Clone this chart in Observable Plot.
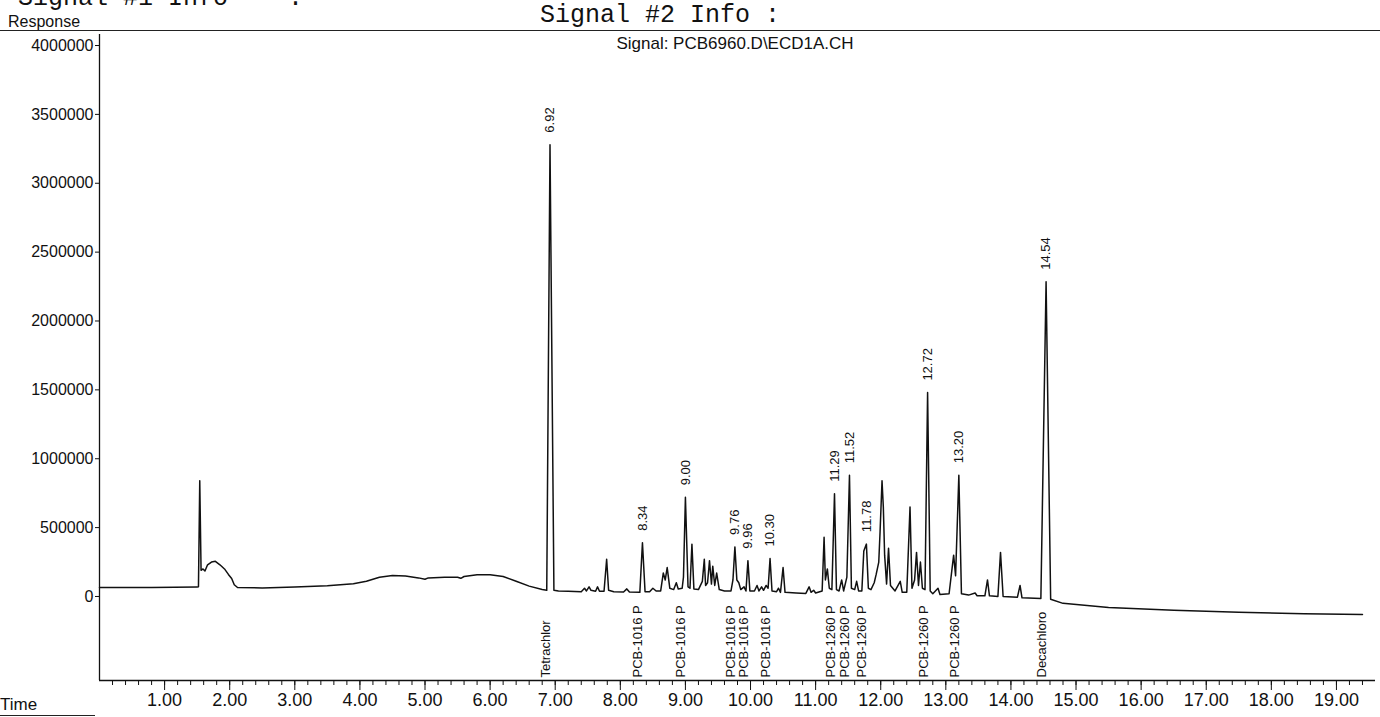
<!DOCTYPE html>
<html><head><meta charset="utf-8">
<script src="https://cdn.jsdelivr.net/npm/d3@7"></script>
<script src="https://cdn.jsdelivr.net/npm/@observablehq/plot@0.6"></script>
<style>
body{margin:0;background:#fff;font-family:"Liberation Sans",Arial,sans-serif;color:#111;}
#wrap{position:relative;width:1380px;height:717px;overflow:hidden;background:#fff;}
#chart{position:absolute;left:0;top:0;}
.mono{position:absolute;font-family:"Liberation Mono","Courier New",monospace;font-size:25px;line-height:1;white-space:pre;color:#111;}
.sans{position:absolute;font-family:"Liberation Sans",Arial,sans-serif;line-height:1;white-space:pre;color:#111;}
</style></head>
<body><div id="wrap">
<div id="chart"></div>
<div class="mono" style="left:18px;top:-14px">Signal #1 Info    :</div>
<div class="mono" style="left:540px;top:3px">Signal #2 Info :</div>
<div style="position:absolute;left:0;top:30px;width:1380px;border-top:1.5px solid #222"></div>
<div class="sans" style="left:8px;top:14px;font-size:16px">Response</div>
<div class="sans" style="left:535px;top:35px;width:400px;text-align:center;font-size:17px">Signal: PCB6960.D\ECD1A.CH</div>
<div class="sans" style="left:0;top:696px;width:95px;font-size:17px;padding-bottom:2px;border-bottom:1.5px solid #222">Time</div>
</div>
<script>
// ---- axis definitions ----
const timeDomain = [0, 19.6];
const responseDomain = [-610000, 4080000];
const responseTicks = [0, 500000, 1000000, 1500000, 2000000, 2500000, 3000000, 3500000, 4000000];
const timeTicks = [1, 2, 3, 4, 5, 6, 7, 8, 9, 10, 11, 12, 13, 14, 15, 16, 17, 18, 19];
const minorTicks = d3.range(0.2, 19.6, 0.2);

// ---- chromatogram trace (retention time, response) ----
const traceTime = [
  0.00, 0.80, 1.50, 1.52, 1.54, 1.56, 1.59, 1.62, 1.66, 1.72, 1.78, 1.85, 1.92, 1.98, 2.03, 2.07, 2.12,
  2.50, 3.00, 3.50, 3.90, 4.10, 4.30, 4.50, 4.70, 4.90, 5.00, 5.05, 5.30, 5.50, 5.55, 5.60, 5.80, 6.00,
  6.20, 6.40, 6.60, 6.80, 6.87, 6.92, 6.98, 7.05, 7.20, 7.40, 7.45, 7.48, 7.52, 7.55, 7.62, 7.65, 7.68,
  7.75, 7.79, 7.82, 7.90, 8.05, 8.10, 8.14, 8.30, 8.34, 8.38, 8.45, 8.50, 8.55, 8.62, 8.66, 8.69, 8.72,
  8.76, 8.82, 8.86, 8.89, 8.95, 8.97, 9.00, 9.04, 9.07, 9.10, 9.13, 9.20, 9.26, 9.29, 9.31, 9.34, 9.37,
  9.40, 9.42, 9.45, 9.48, 9.52, 9.60, 9.70, 9.73, 9.76, 9.79, 9.82, 9.85, 9.90, 9.93, 9.96, 9.99, 10.06,
  10.10, 10.13, 10.17, 10.20, 10.24, 10.27, 10.30, 10.33, 10.40, 10.43, 10.46, 10.50, 10.53, 10.70, 10.85,
  10.90, 10.93, 10.97, 11.00, 11.10, 11.13, 11.15, 11.18, 11.21, 11.25, 11.29, 11.32, 11.36, 11.40, 11.43,
  11.48, 11.52, 11.55, 11.60, 11.63, 11.66, 11.71, 11.74, 11.78, 11.81, 11.85, 11.90, 11.93, 11.97, 11.99,
  12.02, 12.04, 12.06, 12.09, 12.12, 12.15, 12.22, 12.30, 12.33, 12.40, 12.45, 12.48, 12.52, 12.55, 12.58,
  12.61, 12.64, 12.68, 12.72, 12.76, 12.80, 12.88, 12.91, 13.05, 13.12, 13.15, 13.20, 13.24, 13.35, 13.45,
  13.48, 13.60, 13.64, 13.67, 13.80, 13.84, 13.88, 14.10, 14.14, 14.17, 14.46, 14.54, 14.61, 14.80, 15.50,
  16.50, 17.50, 18.50, 19.40
];
const traceResponse = [
  65000, 65000, 68000, 70000, 840000, 190000, 200000, 185000, 230000, 250000, 255000, 230000, 200000, 160000, 130000, 85000, 65000,
  62000, 68000, 78000, 92000, 110000, 140000, 152000, 148000, 135000, 125000, 135000, 140000, 140000, 132000, 145000, 158000, 158000,
  145000, 110000, 75000, 50000, 45000, 3280000, 45000, 40000, 38000, 35000, 60000, 40000, 70000, 45000, 38000, 70000, 38000,
  38000, 270000, 45000, 35000, 32000, 55000, 32000, 30000, 390000, 35000, 35000, 60000, 40000, 40000, 170000, 120000, 210000,
  60000, 50000, 100000, 55000, 60000, 140000, 720000, 70000, 60000, 380000, 55000, 50000, 110000, 270000, 80000, 100000, 260000,
  90000, 220000, 80000, 170000, 50000, 40000, 40000, 120000, 360000, 120000, 100000, 50000, 70000, 40000, 260000, 40000, 40000,
  80000, 40000, 70000, 45000, 80000, 60000, 275000, 40000, 35000, 60000, 30000, 210000, 30000, 25000, 22000,
  70000, 30000, 45000, 25000, 40000, 430000, 120000, 200000, 60000, 50000, 745000, 50000, 40000, 120000, 40000,
  140000, 880000, 60000, 50000, 110000, 40000, 40000, 330000, 380000, 60000, 50000, 100000, 160000, 250000, 470000,
  840000, 650000, 300000, 90000, 350000, 80000, 40000, 110000, 30000, 30000, 650000, 60000, 120000, 320000, 80000,
  250000, 60000, 50000, 1480000, 40000, 20000, 60000, 15000, 20000, 300000, 150000, 880000, 20000, 10000, 25000,
  5000, 5000, 120000, 5000, 0, 320000, 0, -5000, 80000, -10000, -15000, 2285000, -20000, -50000, -80000,
  -100000, -115000, -125000, -130000
];

// ---- labelled peaks ----
const peakTimes = [6.92, 8.34, 9.00, 9.76, 9.96, 10.30, 11.29, 11.52, 11.78, 12.72, 13.20, 14.54];
const peakTops  = [3280000, 390000, 720000, 360000, 260000, 275000, 745000, 880000, 380000, 1480000, 880000, 2285000];
const compoundNames = ["Tetrachlor", "PCB-1016 P", "PCB-1016 P", "PCB-1016 P", "PCB-1016 P", "PCB-1016 P",
  "PCB-1260 P", "PCB-1260 P", "PCB-1260 P", "PCB-1260 P", "PCB-1260 P", "Decachloro"];

const trace = traceTime.map((t, i) => ({t, r: traceResponse[i]}));
const peaks = peakTimes.map((t, i) => ({t, top: peakTops[i], name: compoundNames[i]}));

const font = "'Liberation Sans', Arial, sans-serif";
const ink = "#111";

const chart = Plot.plot({
  width: 1380,
  height: 717,
  marginLeft: 99,
  marginRight: 5,
  marginTop: 34,
  marginBottom: 37,
  style: {fontFamily: font, background: "white", color: ink, overflow: "visible"},
  x: {domain: timeDomain, label: null},
  y: {domain: responseDomain, label: null},
  marks: [
    Plot.axisY({ticks: responseTicks, tickFormat: d3.format("d"), tickSize: 4, tickPadding: 2, fontSize: 16, label: null}),
    Plot.axisX({ticks: minorTicks, tickSize: 5, fill: "none", stroke: ink, label: null}),
    Plot.axisX({ticks: timeTicks, tickFormat: d3.format(".2f"), tickSize: 10, tickPadding: 3, fontSize: 18, label: null}),
    Plot.ruleX([timeDomain[0]], {stroke: ink, strokeWidth: 1.3}),
    Plot.ruleY([responseDomain[0]], {stroke: ink, strokeWidth: 1.3}),
    Plot.line(trace, {x: "t", y: "r", stroke: ink, strokeWidth: 1.5}),
    Plot.text(peaks, {x: "t", y: "top", text: d => d.t.toFixed(2), rotate: -90, textAnchor: "start",
      lineAnchor: "middle", dy: -12, fontSize: 13, fill: ink}),
    Plot.text(peaks, {x: "t", frameAnchor: "bottom", text: "name", rotate: -90, textAnchor: "start",
      lineAnchor: "bottom", dy: -3, fontSize: 13, fill: ink})
  ]
});
document.getElementById("chart").appendChild(chart);
</script>
</body></html>
